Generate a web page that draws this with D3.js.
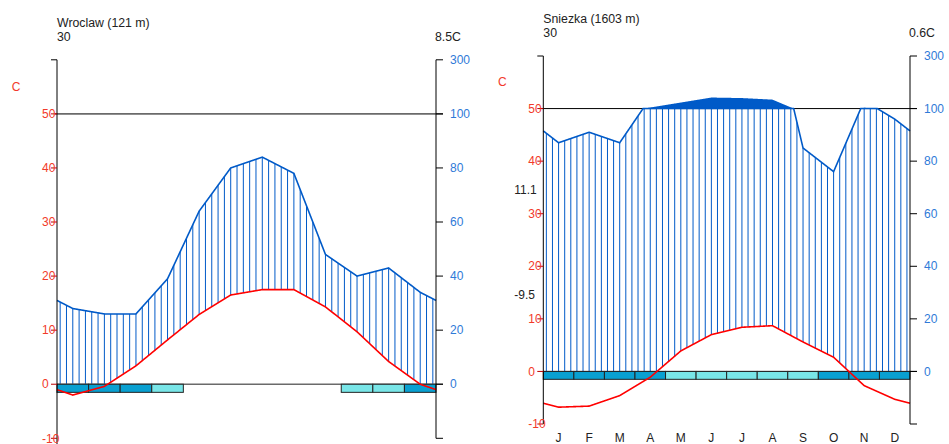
<!DOCTYPE html>
<html><head><meta charset="utf-8">
<script src="https://cdn.jsdelivr.net/npm/d3@7"></script>
<style>body{margin:0;background:#fff;} text{font-family:"Liberation Sans",Arial,sans-serif;}</style>
</head><body><svg id="c" width="949" height="444"></svg>
<script>
const months = ["J","F","M","A","M","J","J","A","S","O","N","D"];
const wroTemp = [-2.0,-0.4,3.4,8.2,12.9,16.5,17.5,17.5,14.3,9.7,4.2,0.0];
const wroPrec = [28,26,26,39,64,80,84,78,48,40,43,34];
const wroFrost = [2,2,2,1,0,0,0,0,0,1,1,2]; // 2 = sure frost, 1 = probable frost
const snTemp = [-6.8,-6.6,-4.6,-1.1,3.9,7.0,8.4,8.7,5.6,2.7,-2.7,-5.3];
const snPrec = [87,91,87,104,123,142,140,134,85,76,103,96];
const snFrost = [2,2,2,2,1,1,1,1,1,2,2,2];
const leftTicks = [-10,0,10,20,30,40,50];
const rightTicks = [0,20,40,60,80,100,300];
const stations = [
  {name:"Wroclaw (121 m)", years:"30", mean:"8.5C", temp:wroTemp, prec:wroPrec, frost:wroFrost, extremes:null, showMonths:false},
  {name:"Sniezka (1603 m)", years:"30", mean:"0.6C", temp:snTemp, prec:snPrec, frost:snFrost, extremes:["11.1","-9.5"], showMonths:true}
];
const layouts = [
  {left:57, right:436, yBot:438.3, yTop:59.8, axisBot:452, refCol:"#6a6a6a"},
  {left:543.3, right:910, yBot:424, yTop:56, axisBot:424, refCol:"#000"}
];
const PCOL="#005ac8", TCOL="#ff0000", SF="#09a0d1", PF="#79e6e8";
const svg = d3.select("#c");

function interpAt(v, m){
  const e=(v[0]+v[11])/2;
  const xs=[0].concat(v.map((d,i)=>i+0.5),[12]);
  const ys=[e].concat(v,[e]);
  return d3.scaleLinear().domain(xs).range(ys)(m);
}

stations.forEach((s,si)=>{
  const L=layouts[si];
  const g=svg.append("g");
  const x=d3.scaleLinear().domain([0,12]).range([L.left,L.right]);
  const yT=d3.scaleLinear().domain([-10,60]).range([L.yBot,L.yTop]);
  const yP=d3.scaleLinear().domain([0,100,300]).range([yT(0),yT(50),yT(60)]);
  const fine=d3.range(0,12.0001,0.005);

  // hatching
  const hat=d3.range(60).map(k=>(k+0.5)*0.2);
  hat.forEach(m=>{
    const p=interpAt(s.prec,m), t=interpAt(s.temp,m);
    const y1=yT(Math.max(t,0)), y2=yP(Math.min(p,100));
    if(y2<y1) g.append("line").attr("x1",x(m)).attr("x2",x(m)).attr("y1",y1).attr("y2",y2)
      .attr("stroke",PCOL).attr("stroke-width",1);
  });
  // fill above 100 mm
  g.append("path").datum(fine)
    .attr("d",d3.area().x(m=>x(m)).y0(yP(100)).y1(m=>yP(Math.max(interpAt(s.prec,m),100))))
    .attr("fill",PCOL);
  // 100 mm line and 0 line
  g.append("line").attr("x1",L.left-2).attr("x2",L.right+7).attr("y1",yP(100)).attr("y2",yP(100)).attr("stroke",L.refCol).attr("stroke-width",L.refCol==="#000"?1:1.6);
  g.append("line").attr("x1",L.left).attr("x2",L.right+7).attr("y1",yT(0)).attr("y2",yT(0)).attr("stroke",L.refCol).attr("stroke-width",L.refCol==="#000"?1:1.6);
  // frost boxes
  s.frost.forEach((f,i)=>{
    if(!f) return;
    g.append("rect").attr("x",x(i)).attr("width",x(i+1)-x(i)).attr("y",yT(0)).attr("height",yT(-1.5)-yT(0))
      .attr("fill",f===2?SF:PF).attr("stroke","#222").attr("stroke-width",1);
  });
  // temperature line
  g.append("path").datum(fine)
    .attr("d",d3.line().x(m=>x(m)).y(m=>yT(interpAt(s.temp,m))))
    .attr("fill","none").attr("stroke",TCOL).attr("stroke-width",1.6);
  // precipitation line
  g.append("path").datum(fine)
    .attr("d",d3.line().x(m=>x(m)).y(m=>yP(Math.min(interpAt(s.prec,m),100))))
    .attr("fill","none").attr("stroke",PCOL).attr("stroke-width",1.6);
  // axes
  g.append("line").attr("x1",L.left).attr("x2",L.left).attr("y1",yT(60)).attr("y2",L.axisBot).attr("stroke","#000");
  g.append("line").attr("x1",L.left-6).attr("x2",L.left).attr("y1",yT(60)).attr("y2",yT(60)).attr("stroke","#000");
  leftTicks.forEach(v=>{
    g.append("line").attr("x1",L.left-6).attr("x2",L.left).attr("y1",yT(v)).attr("y2",yT(v)).attr("stroke","#b00");
    g.append("text").attr("x",L.left-15).attr("y",yT(v)).attr("dy","0.35em").attr("font-size",12)
      .attr("fill","#f23a2a").text(v);
  });
  g.append("line").attr("x1",L.right).attr("x2",L.right).attr("y1",yT(60)).attr("y2",yT(-10)).attr("stroke","#000");
  rightTicks.forEach(v=>{
    g.append("line").attr("x1",L.right).attr("x2",L.right+7).attr("y1",yP(v)).attr("y2",yP(v)).attr("stroke","#000");
    g.append("text").attr("x",L.right+14).attr("y",yP(v)).attr("dy","0.35em").attr("font-size",12)
      .attr("fill","#2f7ad8").text(v);
  });
  g.append("line").attr("x1",L.right).attr("x2",L.right+7).attr("y1",yT(-10)).attr("y2",yT(-10)).attr("stroke","#000");
  // texts
  g.append("text").attr("x",L.left).attr("y",yT(60)-33).attr("font-size",12.3).attr("fill","#222").text(s.name);
  g.append("text").attr("x",L.left).attr("y",yT(60)-19).attr("font-size",12.3).attr("fill","#222").text(s.years);
  g.append("text").attr("x",L.right+25).attr("y",yT(60)-19).attr("font-size",12.3).attr("fill","#222").attr("text-anchor","end").text(s.mean);
  g.append("text").attr("x",L.left-41).attr("y",yT(55)).attr("dy","0.35em").attr("font-size",12).attr("fill","#f23a2a").attr("text-anchor","middle").text("C");
  if(s.showMonths){
    months.forEach((mn,i)=>{
      g.append("text").attr("x",x(i+0.5)).attr("y",yT(-10)+14).attr("dy","0.35em").attr("font-size",12)
        .attr("text-anchor","middle").attr("fill","#222").text(mn);
    });
  }
  if(s.extremes){
    g.append("text").attr("x",L.left-29).attr("y",yT(34.5)).attr("dy","0.35em").attr("font-size",12).attr("fill","#222").text(s.extremes[0]);
    g.append("text").attr("x",L.left-29).attr("y",yT(14.6)).attr("dy","0.35em").attr("font-size",12).attr("fill","#222").text(s.extremes[1]);
  }
});
</script></body></html>
